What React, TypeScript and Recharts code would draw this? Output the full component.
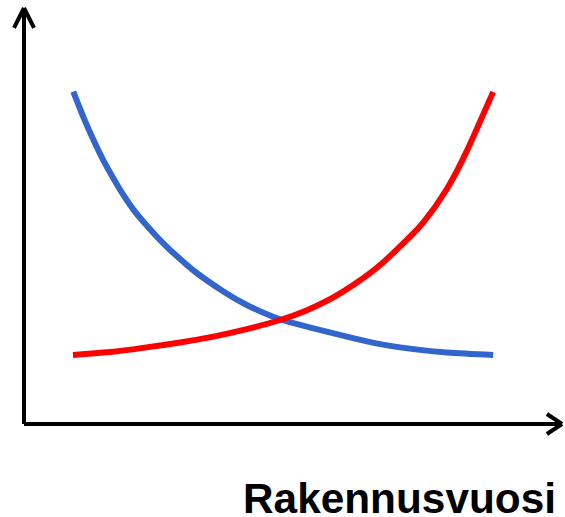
import React from 'react';
import { LineChart, Line, XAxis, YAxis, ReferenceLine } from 'recharts';

// x and y in arbitrary units (0-100)
const blueX = [9.16, 11.0, 12.9, 14.7, 16.6, 18.5, 20.3, 22.2, 24.7, 27.1, 29.6, 32.1, 37.0, 41.4, 46.3, 49.4, 53.8, 60.0, 66.2, 72.4, 78.6, 87.2];
const blueY = [79.9, 73.9, 68.3, 63.5, 59.1, 55.0, 51.6, 48.6, 45.0, 41.9, 39.0, 36.3, 31.9, 28.6, 25.8, 24.5, 23.0, 21.0, 19.2, 18.0, 17.2, 16.6];
const redX = [9.1, 16.0, 22.1, 29.0, 35.2, 41.4, 47.6, 52.5, 56.9, 61.2, 66.2, 71.1, 74.2, 78.6, 82.3, 84.8, 87.2];
const redY = [16.6, 17.3, 18.3, 19.6, 21.0, 22.8, 25.0, 27.3, 30.0, 33.4, 38.2, 44.2, 48.4, 56.5, 65.6, 72.8, 79.8];
const xLabel = 'Rakennusvuosi';

const blueData = blueX.map((x, i) => ({ x, y: blueY[i] }));
const redData = redX.map((x, i) => ({ x, y: redY[i] }));

const axisStyle = { stroke: '#000', strokeWidth: 4 };

export default function App() {
  return (
    <div style={{ position: 'fixed', left: 0, top: 0, width: 565, height: 517, background: '#fff' }}>
      <LineChart width={565} height={517} margin={{ top: 8, right: 3, bottom: 93, left: 24 }}>
        <XAxis type="number" dataKey="x" domain={[0, 100]} hide />
        <YAxis type="number" dataKey="y" domain={[0, 100]} hide />
        {/* axes with arrowheads */}
        <ReferenceLine segment={[{ x: 0, y: 0 }, { x: 0, y: 100 }]} {...axisStyle} ifOverflow="visible" />
        <ReferenceLine segment={[{ x: 0, y: 0 }, { x: 100, y: 0 }]} {...axisStyle} ifOverflow="visible" />
        <ReferenceLine segment={[{ x: -1.86, y: 95.2 }, { x: 0, y: 100 }]} {...axisStyle} ifOverflow="visible" />
        <ReferenceLine segment={[{ x: 1.86, y: 95.2 }, { x: 0, y: 100 }]} {...axisStyle} ifOverflow="visible" />
        <ReferenceLine segment={[{ x: 97.2, y: 2.4 }, { x: 100, y: 0 }]} {...axisStyle} ifOverflow="visible" />
        <ReferenceLine segment={[{ x: 97.2, y: -2.4 }, { x: 100, y: 0 }]} {...axisStyle} ifOverflow="visible" />
        <Line data={blueData} dataKey="y" type="natural" stroke="#3366cc" strokeWidth={6} dot={false} isAnimationActive={false} />
        <Line data={redData} dataKey="y" type="natural" stroke="#ff0000" strokeWidth={6} dot={false} isAnimationActive={false} />
      </LineChart>
      <svg width={565} height={517} style={{ position: 'absolute', left: 0, top: 0, pointerEvents: 'none' }}>
        <text
          x={243}
          y={513}
          fontFamily="'Liberation Sans', Arial, sans-serif"
          fontWeight="bold"
          fontSize={42}
          textLength={313}
          lengthAdjust="spacingAndGlyphs"
          fill="#000"
        >
          {xLabel}
        </text>
      </svg>
    </div>
  );
}
